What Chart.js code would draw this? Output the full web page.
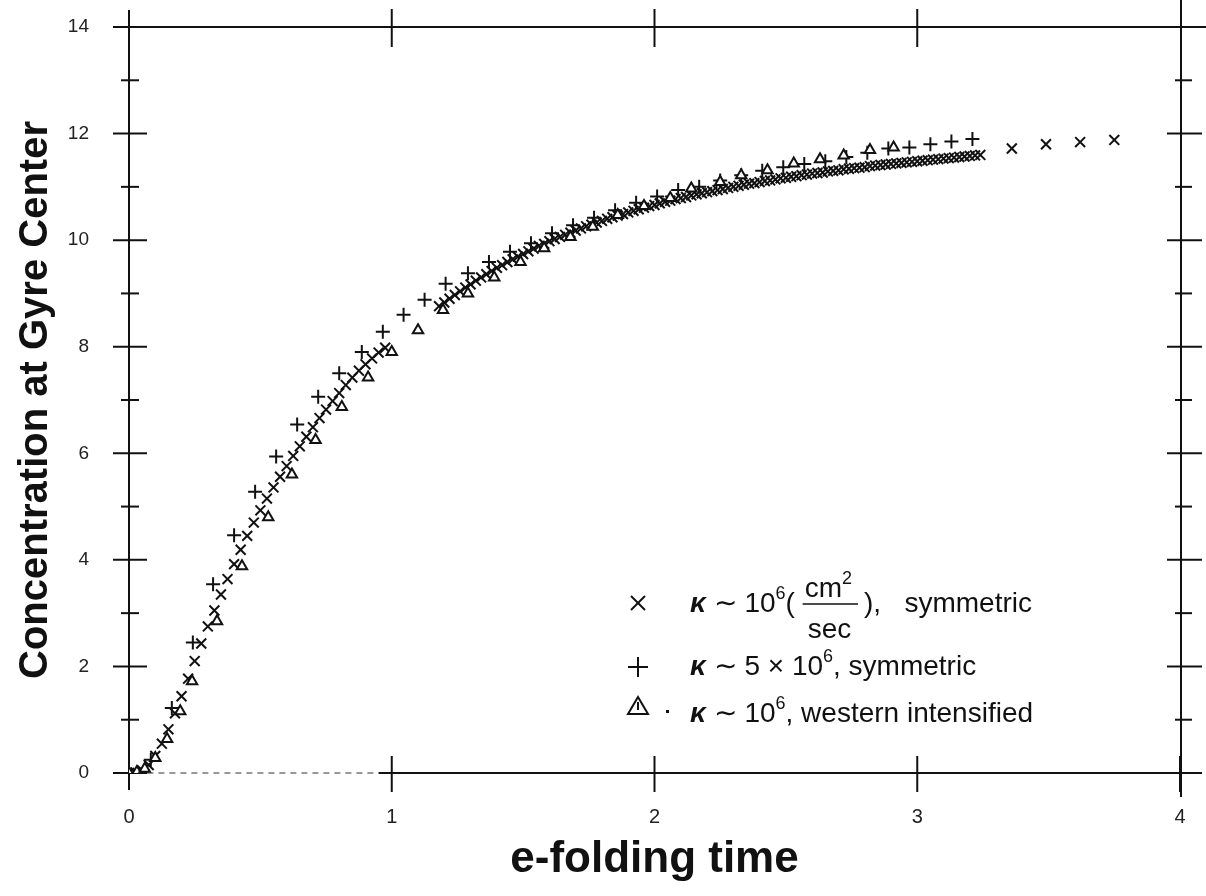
<!DOCTYPE html>
<html>
<head>
<meta charset="utf-8">
<title>Concentration at Gyre Center</title>
<script src="https://cdn.jsdelivr.net/npm/chart.js@4/dist/chart.umd.min.js"></script>
<style>
  html, body { margin: 0; padding: 0; background: #fff; }
  #wrap { width: 1206px; height: 896px; }
</style>
</head>
<body>
<div id="wrap"><canvas id="gyreChart" width="1206" height="896"></canvas></div>
<script>
// Values: [e-folding time, concentration]

// x  kappa ~ 1e6, symmetric
const crossPoints = [
  [0, 0.0], [0.025, 0.01], [0.05, 0.05], [0.075, 0.15], [0.1, 0.32], [0.125, 0.55],
  [0.15, 0.82], [0.175, 1.12], [0.2, 1.44], [0.225, 1.77], [0.25, 2.1], [0.275, 2.43],
  [0.3, 2.75], [0.325, 3.05], [0.35, 3.35], [0.375, 3.64], [0.4, 3.92], [0.425, 4.19],
  [0.45, 4.45], [0.475, 4.7], [0.5, 4.93], [0.525, 5.15], [0.55, 5.36], [0.575, 5.56],
  [0.6, 5.76], [0.625, 5.95], [0.65, 6.13], [0.675, 6.31], [0.7, 6.49], [0.725, 6.66],
  [0.75, 6.82], [0.775, 6.98], [0.8, 7.13], [0.825, 7.28], [0.85, 7.42], [0.875, 7.55],
  [0.9, 7.67], [0.925, 7.78], [0.95, 7.89], [0.975, 7.98],
  [1.18, 8.76], [1.2, 8.83], [1.22, 8.9], [1.24, 8.97], [1.26, 9.04], [1.28, 9.11],
  [1.3, 9.17], [1.32, 9.24], [1.34, 9.3], [1.36, 9.36], [1.38, 9.42], [1.4, 9.48],
  [1.42, 9.53], [1.44, 9.59], [1.46, 9.64], [1.48, 9.69], [1.5, 9.74], [1.52, 9.79],
  [1.54, 9.84], [1.56, 9.89], [1.58, 9.93], [1.6, 9.98], [1.62, 10.02], [1.64, 10.06],
  [1.66, 10.1], [1.68, 10.14], [1.7, 10.18], [1.72, 10.22], [1.74, 10.26], [1.76, 10.29],
  [1.78, 10.33], [1.8, 10.36], [1.82, 10.4], [1.84, 10.43], [1.86, 10.46], [1.88, 10.49],
  [1.9, 10.52], [1.92, 10.55], [1.94, 10.58], [1.96, 10.61], [1.98, 10.64], [2.0, 10.66],
  [2.02, 10.69], [2.04, 10.72], [2.06, 10.74], [2.08, 10.77], [2.1, 10.79], [2.12, 10.81],
  [2.14, 10.84], [2.16, 10.86], [2.18, 10.88], [2.2, 10.9], [2.22, 10.92], [2.24, 10.94],
  [2.26, 10.96], [2.28, 10.98], [2.3, 11.0], [2.32, 11.02], [2.34, 11.04], [2.36, 11.06],
  [2.38, 11.07], [2.4, 11.09], [2.42, 11.11], [2.44, 11.12], [2.46, 11.14], [2.48, 11.16],
  [2.5, 11.17], [2.52, 11.19], [2.54, 11.2], [2.56, 11.22], [2.58, 11.23], [2.6, 11.25],
  [2.62, 11.26], [2.64, 11.27], [2.66, 11.29], [2.68, 11.3], [2.7, 11.31], [2.72, 11.33],
  [2.74, 11.34], [2.76, 11.35], [2.78, 11.36], [2.8, 11.37], [2.82, 11.39], [2.84, 11.4],
  [2.86, 11.41], [2.88, 11.42], [2.9, 11.43], [2.92, 11.44], [2.94, 11.45], [2.96, 11.46],
  [2.98, 11.47], [3.0, 11.48], [3.02, 11.49], [3.04, 11.5], [3.06, 11.51], [3.08, 11.52],
  [3.1, 11.53], [3.12, 11.54], [3.14, 11.55], [3.16, 11.56], [3.18, 11.57], [3.2, 11.58],
  [3.22, 11.59], [3.24, 11.6],
  [3.36, 11.72], [3.49, 11.8], [3.62, 11.84], [3.75, 11.88],
];

// +  kappa ~ 5e6, symmetric
const plusPoints = [
  [0, 0.0], [0.083, 0.25], [0.163, 1.22], [0.243, 2.45], [0.32, 3.54], [0.4, 4.46],
  [0.48, 5.28], [0.56, 5.94], [0.64, 6.54], [0.72, 7.06], [0.8, 7.5], [0.886, 7.9],
  [0.966, 8.28], [1.045, 8.6], [1.125, 8.88], [1.205, 9.18], [1.29, 9.38], [1.37, 9.59],
  [1.45, 9.78], [1.53, 9.94], [1.61, 10.13], [1.69, 10.28], [1.77, 10.42], [1.85, 10.56],
  [1.93, 10.7], [2.01, 10.82], [2.09, 10.94], [2.17, 11.0], [2.25, 11.12], [2.33, 11.22],
  [2.41, 11.3], [2.49, 11.37], [2.57, 11.43], [2.65, 11.48], [2.73, 11.56], [2.81, 11.64],
  [2.89, 11.72], [2.97, 11.74], [3.05, 11.8], [3.13, 11.85], [3.21, 11.9],
];

// triangle  kappa ~ 1e6, western intensified
const trianglePoints = [
  [0, 0.0], [0.03, 0.02], [0.06, 0.08], [0.1, 0.28], [0.145, 0.64], [0.195, 1.16],
  [0.24, 1.72], [0.335, 2.85], [0.43, 3.88], [0.53, 4.8], [0.62, 5.6], [0.71, 6.25],
  [0.81, 6.87], [0.91, 7.42], [1.0, 7.9], [1.1, 8.31], [1.195, 8.69], [1.29, 9.0],
  [1.39, 9.3], [1.49, 9.59], [1.58, 9.85], [1.68, 10.06], [1.765, 10.25], [1.86, 10.47],
  [1.96, 10.64], [2.06, 10.79], [2.14, 10.97], [2.25, 11.09], [2.33, 11.22], [2.43, 11.31],
  [2.53, 11.44], [2.63, 11.52], [2.72, 11.59], [2.82, 11.69], [2.91, 11.74],
];

const xTickValues = [0, 1, 2, 3, 4];
const yTickValues = [0, 2, 4, 6, 8, 10, 12, 14];
const yMinorValues = [1, 3, 5, 7, 9, 11, 13];

(function () {
  const INK = "#111";
  const toXY = (pts) => pts.map((p) => ({ x: p[0], y: p[1] }));

  function line(ctx, x1, y1, x2, y2) {
    ctx.beginPath();
    ctx.moveTo(x1, y1);
    ctx.lineTo(x2, y2);
    ctx.stroke();
  }

  // Box frame with ticks crossing the axis lines, like the original print
  const frameTicks = {
    id: "frameTicks",
    beforeDatasetsDraw(chart) {
      const { ctx, chartArea: a, scales } = chart;
      const xs = scales.x;
      const ys = scales.y;
      ctx.save();
      ctx.strokeStyle = INK;
      ctx.lineWidth = 2;

      line(ctx, a.left, a.top - 17, a.left, a.bottom + 17);
      line(ctx, a.left - 16, a.top, 1206, a.top);
      line(ctx, a.right + 1, 0, a.right + 1, a.bottom + 24);

      // bottom axis, faint and broken near the origin in the scan
      const x07 = xs.getPixelForValue(0.07);
      const x95 = xs.getPixelForValue(0.95);
      line(ctx, a.left - 16, a.bottom, x07, a.bottom);
      line(ctx, x95, a.bottom, 1198, a.bottom);
      ctx.save();
      ctx.strokeStyle = "#777";
      ctx.lineWidth = 1.5;
      ctx.setLineDash([6, 5]);
      line(ctx, x07, a.bottom, x95, a.bottom);
      ctx.restore();

      yTickValues.forEach((v) => {
        const py = ys.getPixelForValue(v);
        line(ctx, a.left - 16, py, a.left + 18, py);
        line(ctx, a.right - 13, py, a.right + 22, py);
      });
      yMinorValues.forEach((v) => {
        const py = ys.getPixelForValue(v);
        line(ctx, a.left - 8, py, a.left + 10, py);
        line(ctx, a.right - 5, py, a.right + 12, py);
      });
      xTickValues.slice(1).forEach((v) => {
        const px = xs.getPixelForValue(v);
        line(ctx, px, a.bottom - 17, px, a.bottom + 19);
        if (v < 4) line(ctx, px, a.top - 18, px, a.top + 20);
      });
      ctx.restore();
    },
  };

  // Legend in the lower right, drawn as text runs
  function runs(ctx, x, y, parts) {
    parts.forEach((p) => {
      ctx.font = p.font;
      ctx.fillText(p.t, x, y + (p.dy || 0));
      x += ctx.measureText(p.t).width + (p.gap || 0);
    });
    return x;
  }

  const legendText = {
    id: "legendText",
    afterDraw(chart) {
      const { ctx } = chart;
      const F = '28px "Liberation Sans", Arial, sans-serif';
      const S = '18px "Liberation Sans", Arial, sans-serif';
      const K = 'italic bold 28px "Liberation Sans", Arial, sans-serif';
      ctx.save();
      ctx.fillStyle = INK;
      ctx.strokeStyle = INK;
      ctx.textBaseline = "alphabetic";
      ctx.textAlign = "left";

      // markers
      ctx.lineWidth = 2;
      line(ctx, 631, 596, 645, 610);
      line(ctx, 645, 596, 631, 610);
      line(ctx, 628, 667, 648, 667);
      line(ctx, 638, 657, 638, 677);
      ctx.beginPath();
      ctx.moveTo(638, 697);
      ctx.lineTo(648, 714);
      ctx.lineTo(628, 714);
      ctx.closePath();
      ctx.stroke();
      line(ctx, 638, 702, 638, 710);
      ctx.fillRect(666, 710, 3, 3);

      // line 1
      let x = runs(ctx, 690, 612, [
        { t: "\u03BA", font: K },
        { t: " \u223C 10", font: F },
        { t: "6", font: S, dy: -13 },
        { t: "( ", font: F },
      ]);
      ctx.font = F;
      const w = ctx.measureText("cm").width + 14;
      runs(ctx, x + 2, 597, [
        { t: "cm", font: F },
        { t: "2", font: S, dy: -13 },
      ]);
      ctx.lineWidth = 1.5;
      line(ctx, x, 604, x + w + 4, 604);
      ctx.font = F;
      ctx.fillText("sec", x + 5, 638);
      runs(ctx, x + w + 10, 612, [{ t: "),   symmetric", font: F }]);

      // line 2
      runs(ctx, 690, 675, [
        { t: "\u03BA", font: K },
        { t: " \u223C 5 \u00D7 10", font: F },
        { t: "6", font: S, dy: -13 },
        { t: ", symmetric", font: F },
      ]);

      // line 3
      runs(ctx, 690, 722, [
        { t: "\u03BA", font: K },
        { t: " \u223C 10", font: F },
        { t: "6", font: S, dy: -13 },
        { t: ", western intensified", font: F },
      ]);
      ctx.restore();
    },
  };

  function createChart() {
    const ctx = document.getElementById("gyreChart").getContext("2d");
    return new Chart(ctx, {
      type: "scatter",
      data: {
        datasets: [
          {
            label: "\u03BA ~ 10^6 (cm\u00B2/sec), symmetric",
            data: toXY(crossPoints),
            pointStyle: "crossRot",
            pointRadius: 7,
            borderColor: INK,
            borderWidth: 2,
            order: 2,
          },
          {
            label: "\u03BA ~ 5 \u00D7 10^6, symmetric",
            data: toXY(plusPoints),
            pointStyle: "cross",
            pointRadius: 7,
            borderColor: INK,
            borderWidth: 2,
            order: 1,
          },
          {
            label: "\u03BA ~ 10^6, western intensified",
            data: toXY(trianglePoints),
            pointStyle: "triangle",
            pointRadius: 6,
            backgroundColor: "#fff",
            borderColor: INK,
            borderWidth: 2,
            order: 0,
          },
        ],
      },
      options: {
        responsive: false,
        devicePixelRatio: 1,
        animation: false,
        layout: { padding: { top: 27, right: 26, left: 0, bottom: 0 } },
        plugins: {
          legend: { display: false },
          tooltip: { enabled: false },
        },
        scales: {
          x: {
            type: "linear",
            min: 0,
            max: 4,
            afterBuildTicks: (s) => { s.ticks = xTickValues.map((v) => ({ value: v })); },
            afterFit: (s) => {
              s.height = 123;
              s.paddingLeft = 0;
              s.paddingRight = 0;
            },
            grid: { display: false },
            border: { display: false },
            ticks: {
              padding: 24,
              color: "#222",
              font: { family: "'Liberation Sans Narrow', 'Liberation Sans', sans-serif", size: 20 },
            },
            title: {
              display: true,
              text: "e-folding time",
              color: INK,
              padding: { top: 0, bottom: 10 },
              font: { family: "'Liberation Sans', Arial, sans-serif", size: 44, weight: "bold" },
            },
          },
          y: {
            type: "linear",
            min: 0,
            max: 14,
            afterBuildTicks: (s) => { s.ticks = yTickValues.map((v) => ({ value: v })); },
            afterFit: (s) => {
              s.width = 129;
              s.paddingTop = 0;
              s.paddingBottom = 0;
            },
            grid: { display: false },
            border: { display: false },
            ticks: {
              padding: 32,
              color: "#222",
              font: { family: "'Liberation Sans', Arial, sans-serif", size: 19 },
            },
            title: {
              display: true,
              text: "Concentration at Gyre Center",
              color: INK,
              padding: { top: 12, bottom: 0 },
              font: { family: "'Liberation Sans', Arial, sans-serif", size: 40, weight: "bold" },
            },
          },
        },
      },
      plugins: [frameTicks, legendText],
    });
  }

  createChart();
})();
</script>
</body>
</html>
